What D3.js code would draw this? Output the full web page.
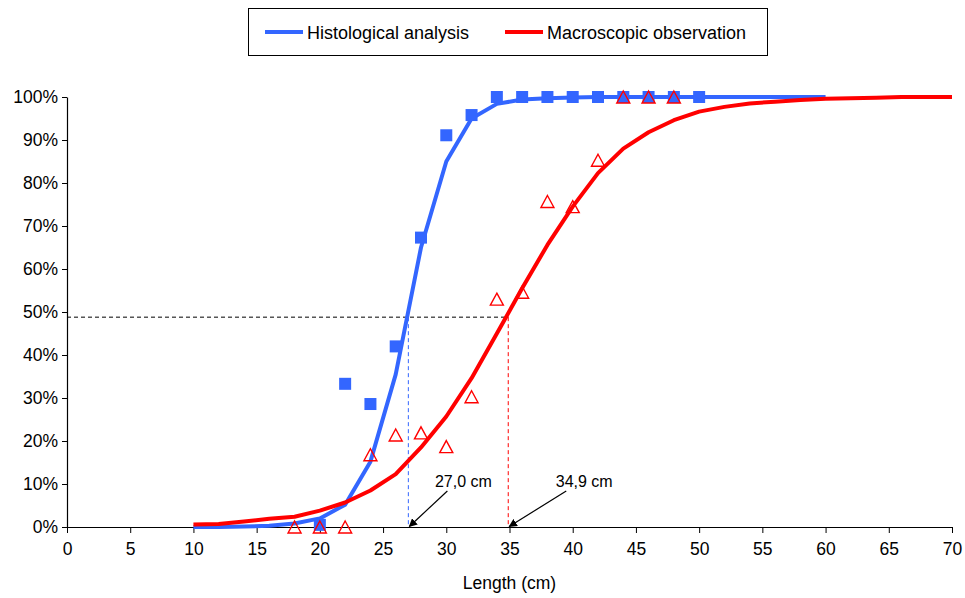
<!DOCTYPE html>
<html>
<head>
<meta charset="utf-8">
<script src="https://cdn.jsdelivr.net/npm/d3@7"></script>
<style>
  html, body { margin: 0; padding: 0; background: #fff; }
  svg { display: block; font-family: "Liberation Sans", Arial, sans-serif; }
</style>
</head>
<body>
<svg id="chart" width="965" height="598"></svg>
<script>
// ---- data ----
const histoObsLength = [20, 22, 24, 26, 28, 30, 32, 34, 36, 38, 40, 42, 44, 46, 48, 50];
const histoObsPct    = [0.5, 33.3, 28.6, 42, 67.3, 91.1, 95.8, 100, 100, 100, 100, 100, 100, 100, 100, 100];

const macroObsLength = [18, 20, 22, 24, 26, 28, 30, 32, 34, 36, 38, 40, 42, 44, 46, 48];
const macroObsPct    = [0, 0, 0, 16.8, 21.4, 21.9, 18.7, 30.3, 53, 54.6, 75.7, 74.5, 85.3, 100, 100, 100];

const histoFitLength = [10, 12, 14, 16, 18, 20, 22, 24, 26, 28, 30, 32, 34, 36, 38, 40, 42, 44, 46, 48, 50, 52, 54, 56, 58, 60];
const histoFitPct    = [0, 0, 0.1, 0.3, 0.8, 2, 5.2, 15.2, 35.5, 65, 85, 95, 98.4, 99.4, 99.7, 99.9, 100, 100, 100, 100, 100, 100, 100, 100, 100, 100];

const macroFitLength = [10, 12, 14, 16, 18, 20, 22, 24, 26, 28, 30, 32, 34, 36, 38, 40, 42, 44, 46, 48, 50, 52, 54, 56, 58, 60, 62, 64, 66, 68, 70];
const macroFitPct    = [0.6, 0.7, 1.3, 1.9, 2.4, 3.8, 5.7, 8.5, 12.3, 18.5, 25.7, 34.6, 45, 55.5, 65.6, 74.5, 82.3, 88, 91.8, 94.6, 96.6, 97.7, 98.5, 98.9, 99.3, 99.6, 99.7, 99.8, 100, 100, 100];

const l50Length = [27.0, 34.9];
const l50Labels = ["27,0 cm", "34,9 cm"];
const l50Pct = 48.8;

const xTicks = [0, 5, 10, 15, 20, 25, 30, 35, 40, 45, 50, 55, 60, 65, 70];
const yTicks = [0, 10, 20, 30, 40, 50, 60, 70, 80, 90, 100];
const seriesNames = ["Histological analysis", "Macroscopic observation"];
const seriesColors = ["#3366FF", "#FF0000"];

// ---- layout ----
const svg = d3.select("#chart");
const plot = { left: 67, right: 952, top: 97, bottom: 527 };
const x = d3.scaleLinear().domain([0, 70]).range([plot.left, plot.right]);
const y = d3.scaleLinear().domain([0, 100]).range([plot.bottom, plot.top]);

// dashed reference lines
svg.append("line")
  .attr("x1", x(0)).attr("x2", x(l50Length[1]))
  .attr("y1", y(l50Pct)).attr("y2", y(l50Pct))
  .attr("stroke", "#000").attr("stroke-width", 1).attr("stroke-dasharray", "4,3");
l50Length.forEach((v, i) => {
  svg.append("line")
    .attr("x1", x(v)).attr("x2", x(v))
    .attr("y1", y(l50Pct)).attr("y2", y(0))
    .attr("stroke", seriesColors[i]).attr("stroke-width", 1).attr("stroke-dasharray", "4,3");
});

// axes
const yAxis = d3.axisLeft(y).tickValues(yTicks).tickFormat(d => d + "%").tickSize(5).tickSizeOuter(0);
const gy = svg.append("g").attr("transform", `translate(${plot.left},0)`).call(yAxis);
const xAxis = d3.axisBottom(x).tickValues(xTicks).tickSize(6).tickSizeOuter(0);
const gx = svg.append("g").attr("transform", `translate(0,${plot.bottom})`).call(xAxis);
[gx, gy].forEach(g => {
  g.select(".domain").attr("stroke", "#000").attr("stroke-width", 1.2);
  g.selectAll(".tick line").attr("stroke", "#000");
  g.selectAll(".tick text").attr("fill", "#000").style("font-size", "17.5px")
    .style("font-family", '"Liberation Sans", Arial, sans-serif');
});
gy.selectAll(".tick text").attr("x", -9);
gx.selectAll(".tick text").attr("y", 16);

svg.append("text")
  .attr("x", (plot.left + plot.right) / 2).attr("y", 589)
  .attr("text-anchor", "middle").style("font-size", "17.5px").attr("fill", "#000")
  .text("Length (cm)");

// fitted curves
const line = d3.line().x(d => x(d[0])).y(d => y(d[1]));
svg.append("path").datum(histoFitLength.map((v, i) => [v, histoFitPct[i]]))
  .attr("d", line).attr("fill", "none").attr("stroke", seriesColors[0])
  .attr("stroke-width", 4).attr("stroke-linejoin", "round");
svg.append("path").datum(macroFitLength.map((v, i) => [v, macroFitPct[i]]))
  .attr("d", line).attr("fill", "none").attr("stroke", seriesColors[1])
  .attr("stroke-width", 4).attr("stroke-linejoin", "round");

// observed points
const sq = 12;
svg.append("g").selectAll("rect")
  .data(histoObsLength.map((v, i) => [v, histoObsPct[i]]))
  .join("rect")
  .attr("x", d => x(d[0]) - sq / 2).attr("y", d => y(d[1]) - sq / 2)
  .attr("width", sq).attr("height", sq).attr("fill", seriesColors[0]);

const tw = 13, th = 12;
svg.append("g").selectAll("path")
  .data(macroObsLength.map((v, i) => [v, macroObsPct[i]]))
  .join("path")
  .attr("d", d => {
    const cx = x(d[0]), cy = y(d[1]);
    return `M${cx},${cy - th / 2}L${cx + tw / 2},${cy + th / 2}L${cx - tw / 2},${cy + th / 2}Z`;
  })
  .attr("fill", "none").attr("stroke", seriesColors[1]).attr("stroke-width", 1.4);

// annotations with arrows
svg.append("defs").append("marker")
  .attr("id", "arrow").attr("viewBox", "0 0 10 10").attr("refX", 9).attr("refY", 5)
  .attr("markerWidth", 7).attr("markerHeight", 7).attr("orient", "auto")
  .append("path").attr("d", "M0,0L10,5L0,10Z").attr("fill", "#000");

const annOffsets = [
  { tx: 55, ty: -40, sx: 39, sy: -36 },
  { tx: 76, ty: -40, sx: 58, sy: -36 }
];
l50Length.forEach((v, i) => {
  const px = x(v), py = y(0);
  const o = annOffsets[i];
  svg.append("line")
    .attr("x1", px + o.sx).attr("y1", py + o.sy)
    .attr("x2", px + 1).attr("y2", py - 0.5)
    .attr("stroke", "#000").attr("stroke-width", 1.2)
    .attr("marker-end", "url(#arrow)");
  svg.append("text")
    .attr("x", px + o.tx).attr("y", py + o.ty)
    .attr("text-anchor", "middle").style("font-size", "16px").attr("fill", "#000")
    .text(l50Labels[i]);
});

// legend
const lg = svg.append("g");
lg.append("rect").attr("x", 248.5).attr("y", 8.5).attr("width", 519).attr("height", 47)
  .attr("fill", "#fff").attr("stroke", "#000").attr("stroke-width", 1);
const legendX = [265, 505];
seriesNames.forEach((name, i) => {
  lg.append("line").attr("x1", legendX[i]).attr("x2", legendX[i] + 38)
    .attr("y1", 32).attr("y2", 32).attr("stroke", seriesColors[i]).attr("stroke-width", 4);
  lg.append("text").attr("x", legendX[i] + 42).attr("y", 38.5)
    .style("font-size", "18px").attr("fill", "#000").text(name);
});
</script>
</body>
</html>
